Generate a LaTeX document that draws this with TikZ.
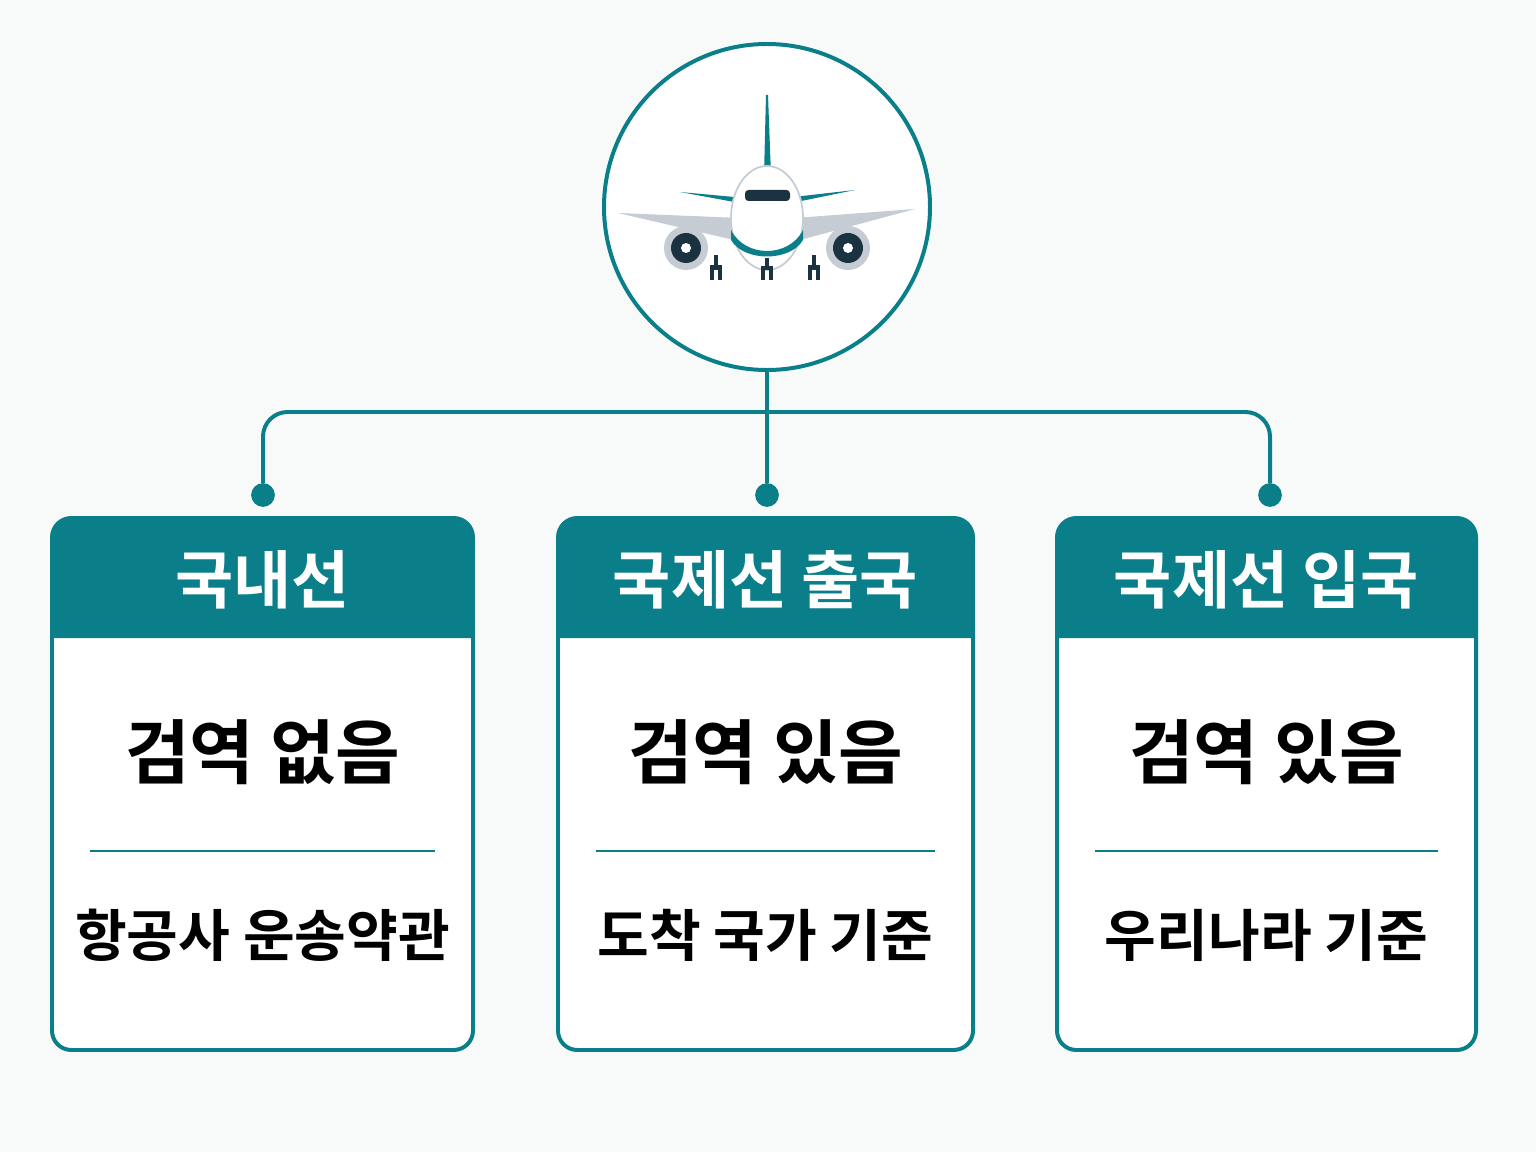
\documentclass[tikz,border=0pt]{standalone}
\usepackage{fontspec}
\newfontfamily\cjk{Noto Sans CJK KR}
\newfontfamily\cjkb{Noto Sans CJK KR Bold}
\definecolor{teal0}{HTML}{0A7F8A}
\definecolor{bgc}{HTML}{F8FAFA}
\definecolor{wing}{HTML}{C5CCD3}
\definecolor{navy}{HTML}{1B3340}
\begin{document}
\begin{tikzpicture}
[ x=0.02cm, y=-0.02cm
, box/.style={draw=teal0, line width=4pt*0.567, rounded corners=11pt, fill=white}
, head/.style={font=\cjkb\fontsize{36}{40}\selectfont, text=white}
, main/.style={font=\cjkb\fontsize{40}{44}\selectfont}
, sub/.style={font=\cjkb\fontsize{32}{36}\selectfont}
, link/.style={draw=teal0, line width=4pt*0.567, rounded corners=14pt}
, dot/.style={circle, fill=teal0, inner sep=0pt, minimum size=13.5pt}
]
\fill[bgc] (0,0) rectangle (1536,1152);
% hub
\node (hub) [circle, draw=teal0, line width=4pt*0.567, fill=white, minimum size=326*0.02cm] at (767,207) {};
% airplane
\begin{scope}
\fill[teal0] (764,175) -- (766,95) -- (768,95) -- (771,175) -- cycle;
\fill[teal0] (680,192) -- (767,200) -- (855,190) -- (767,208) -- cycle;
\fill[wing] (618,213) -- (740,218) -- (795,218) -- (915,209) -- (800,240) -- (734,240) -- cycle;
\foreach \ex/\gx in {686/716,848/814} {
  \fill[wing] (\ex,248) circle (22*0.02cm);
  \fill[navy] (\ex,248) circle (15*0.02cm);
  \fill[white] (\ex,248) circle (5*0.02cm);
  \draw[navy, line width=2pt] (\gx,255) -- (\gx,270);
  \draw[navy, line width=2.5pt] (\gx-4,265) -- (\gx-4,280) (\gx+4,265) -- (\gx+4,280);
}
\fill[white, draw=wing, line width=1pt] (767,218) ellipse (36*0.02cm and 52*0.02cm);
\fill[teal0] (731,230) .. controls (745,258) and (789,258) .. (803,230) -- (803,240) .. controls (790,262) and (744,262) .. (731,240) -- cycle;
\fill[navy, rounded corners=2pt] (745,190) rectangle (790,201);
\draw[navy, line width=2pt] (767,258) -- (767,270);
\draw[navy, line width=2.5pt] (763,266) -- (763,280) (771,266) -- (771,280);
\end{scope}
% connectors
\coordinate (jn) at (767,412);
\node (d1) [dot] at (263,495) {};
\node (d2) [dot] at (767,495) {};
\node (d3) [dot] at (1270,495) {};
\draw[link] (hub.south) -- (d2);
\draw[link] (d1) -- (263,412) -- (1270,412) -- (d3);
% boxes
\foreach \n/\xa/\xb/\h/\m/\s in {a/52/473/국내선/검역 없음/항공사 운송약관,
  b/558/973/국제선 출국/검역 있음/도착 국가 기준,
  c/1057/1476/국제선 입국/검역 있음/우리나라 기준} {
  \draw[box] (\xa,518) rectangle (\xb,1050);
  \fill[teal0, rounded corners=11pt] (\xa,638) -- (\xa,518) -- (\xb,518) -- (\xb,580) [sharp corners] -- (\xb,638) -- cycle;
  \draw[teal0, line width=2pt*0.567] (\xa+38,851) -- (\xb-38,851);
  \node (h\n) [head] at ({(\xa+\xb)/2},580) {\h};
  \node (m\n) [main] at ({(\xa+\xb)/2},752) {\m};
  \node (s\n) [sub] at ({(\xa+\xb)/2},935) {\s};
}
\end{tikzpicture}
\end{document}
